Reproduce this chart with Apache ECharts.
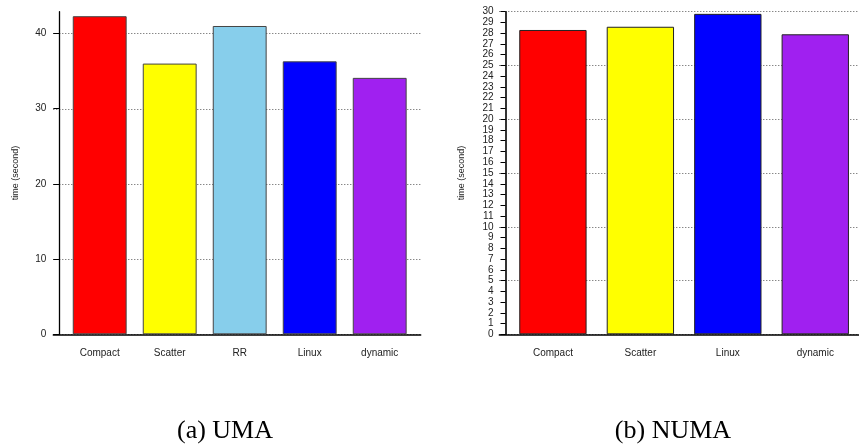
<!DOCTYPE html>
<html>
<head>
<meta charset="utf-8">
<script src="https://cdn.jsdelivr.net/npm/echarts@6/dist/echarts.min.js"></script>
<style>
html,body{margin:0;padding:0;background:#fff;}
#main{width:859px;height:447px;}
</style>
</head>
<body>
<div id="main"></div>
<script>
// ---- data ----
var umaCategories = ['Compact', 'Scatter', 'RR', 'Linux', 'dynamic'];
var umaValues = [42.3, 36.0, 41.0, 36.3, 34.1];
var umaColors = ['#FF0000', '#FFFF00', '#87CEEB', '#0000FF', '#A020F0'];
var umaTicks = [0, 10, 20, 30, 40];

var numaCategories = ['Compact', 'Scatter', 'Linux', 'dynamic'];
var numaValues = [28.3, 28.6, 29.8, 27.9];
var numaColors = ['#FF0000', '#FFFF00', '#0000FF', '#A020F0'];

var yName = 'time (second)';
var captions = ['(a) UMA', '(b) NUMA'];

// ---- chart ----
var chart = echarts.init(document.getElementById('main'), null, {renderer: 'canvas'});
var sans = '"Liberation Sans", Arial, Helvetica, sans-serif';
var serif = '"Liberation Serif", "Times New Roman", serif';
var txt = '#222';
var dotted = {color: '#555', type: [1, 2], width: 1};

function bars(vals, cols, border) {
  return vals.map(function (v, i) {
    return {value: v, itemStyle: {color: cols[i], borderColor: border, borderWidth: 1}};
  });
}
function helperX() {
  return {type: 'value', min: 0, max: 1,
    axisLine: {show: true, lineStyle: {color: '#000', width: 1.5}},
    axisTick: {show: false}, axisLabel: {show: false}, splitLine: {show: false}};
}

var option = {
  animation: false,
  backgroundColor: '#fff',
  grid: [
    {left: 64.7, width: 350, top: 11.7, height: 322.6},
    {left: 53.3, width: 367.4, top: 33.7, height: 300.6},
    {left: 509.2, width: 354.4, top: 11.7, height: 322.6},
    {left: 499.3, width: 370, top: 11.7, height: 322.6}
  ],
  xAxis: [
    {gridIndex: 0, type: 'category', data: umaCategories,
      axisLine: {show: false}, axisTick: {show: false},
      axisLabel: {margin: 14, fontSize: 10, fontFamily: sans, color: txt}},
    Object.assign({gridIndex: 1}, helperX()),
    {gridIndex: 2, type: 'category', data: numaCategories,
      axisLine: {show: false}, axisTick: {show: false},
      axisLabel: {margin: 14, fontSize: 10, fontFamily: sans, color: txt}},
    Object.assign({gridIndex: 3}, helperX())
  ],
  yAxis: [
    {gridIndex: 0, type: 'value', min: 0, max: 42.9, interval: 10, offset: 5.4,
      name: yName, nameLocation: 'middle', nameRotate: 90, nameGap: 39,
      nameTextStyle: {fontSize: 9, fontFamily: sans, color: txt},
      axisLine: {show: true, lineStyle: {color: '#000', width: 1.3}},
      axisTick: {show: true, length: 6, customValues: umaTicks, lineStyle: {color: '#000'}},
      axisLabel: {margin: 13, fontSize: 10, fontFamily: sans, color: txt, customValues: umaTicks},
      splitLine: {show: false}},
    {gridIndex: 1, type: 'value', min: 0, max: 40, interval: 10,
      axisLine: {show: false}, axisTick: {show: false}, axisLabel: {show: false},
      splitLine: {show: true, lineStyle: dotted}},
    {gridIndex: 2, type: 'value', min: 0, max: 30, interval: 1, offset: 3.7,
      name: yName, nameLocation: 'middle', nameRotate: 90, nameGap: 39,
      nameTextStyle: {fontSize: 9, fontFamily: sans, color: txt},
      axisLine: {show: true, lineStyle: {color: '#000', width: 1.6}},
      axisTick: {show: true, length: 5, lineStyle: {color: '#000'}},
      axisLabel: {margin: 12, fontSize: 10, fontFamily: sans, color: txt,
        showMinLabel: true, showMaxLabel: true},
      splitLine: {show: false}},
    {gridIndex: 3, type: 'value', min: 0, max: 30, interval: 5,
      axisLine: {show: false}, axisTick: {show: false}, axisLabel: {show: false},
      splitLine: {show: true, lineStyle: dotted}}
  ],
  series: [
    {type: 'bar', xAxisIndex: 0, yAxisIndex: 0, barCategoryGap: '23%',
      data: bars(umaValues, umaColors, '#444'), z: 3},
    {type: 'bar', xAxisIndex: 2, yAxisIndex: 2, barCategoryGap: '23%',
      data: bars(numaValues, numaColors, '#222'), z: 3}
  ],
  graphic: [
    {type: 'text', x: 225, y: 431, style: {text: captions[0], fontSize: 26, fontFamily: serif,
      fill: '#000', align: 'center', verticalAlign: 'middle'}},
    {type: 'text', x: 673, y: 431, style: {text: captions[1], fontSize: 26, fontFamily: serif,
      fill: '#000', align: 'center', verticalAlign: 'middle'}}
  ]
};
chart.setOption(option);
</script>
</body>
</html>
